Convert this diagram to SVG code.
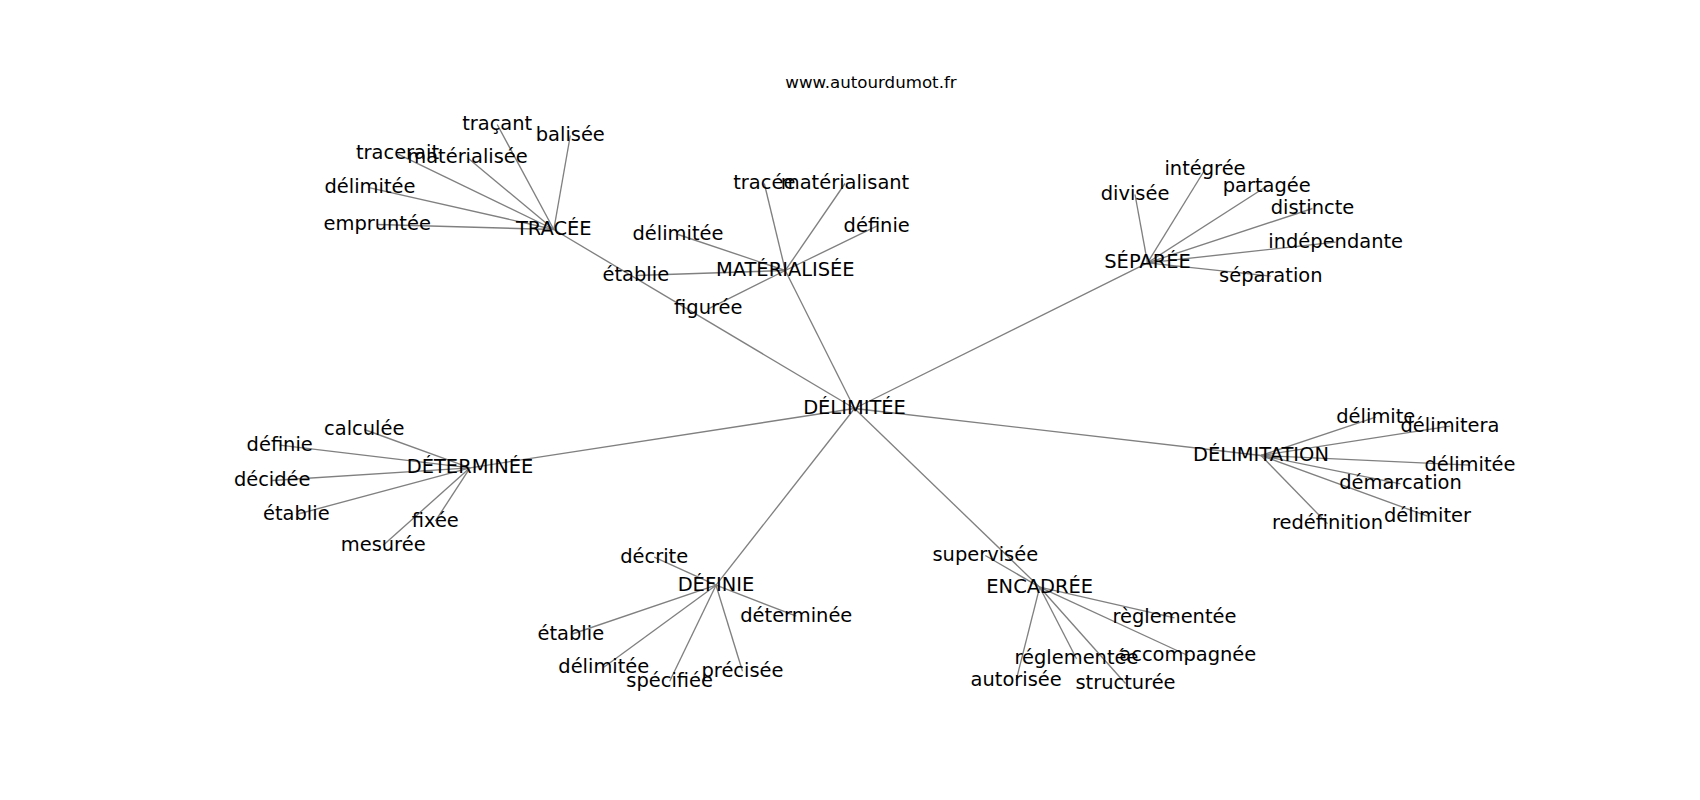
<svg xmlns="http://www.w3.org/2000/svg" width="1700" height="800" viewBox="0 0 1700 800">
<style>
.bg{fill:#ffffff}
.e line{stroke:#808080;stroke-width:1.35;fill:none}
text{font-family:"DejaVu Sans","Liberation Sans",sans-serif;fill:#000000;text-anchor:middle}
.lb{font-size:19.44px}
.tt{font-size:16.67px}
</style>
<rect class="bg" x="0" y="0" width="1700" height="800"/>
<text id="title" class="tt" x="871" y="88">www.autourdumot.fr</text>
<g id="edges" class="e">
<line x1="854.5" y1="408.5" x2="553.8" y2="229.5"/>
<line x1="854.5" y1="408.5" x2="785.3" y2="270.5"/>
<line x1="854.5" y1="408.5" x2="1147.5" y2="262.8"/>
<line x1="854.5" y1="408.5" x2="1261" y2="455.5"/>
<line x1="854.5" y1="408.5" x2="470" y2="467.8"/>
<line x1="854.5" y1="408.5" x2="716" y2="585.2"/>
<line x1="854.5" y1="408.5" x2="1039.7" y2="587.2"/>
<line x1="553.8" y1="229.5" x2="497.2" y2="124.5"/>
<line x1="553.8" y1="229.5" x2="570.3" y2="135.5"/>
<line x1="553.8" y1="229.5" x2="397.5" y2="153.8"/>
<line x1="553.8" y1="229.5" x2="467.5" y2="157.8"/>
<line x1="553.8" y1="229.5" x2="370" y2="187.8"/>
<line x1="553.8" y1="229.5" x2="377.2" y2="224.5"/>
<line x1="785.3" y1="270.5" x2="764.3" y2="183.5"/>
<line x1="785.3" y1="270.5" x2="845" y2="183.5"/>
<line x1="785.3" y1="270.5" x2="678" y2="234.5"/>
<line x1="785.3" y1="270.5" x2="876.7" y2="226.2"/>
<line x1="785.3" y1="270.5" x2="635.8" y2="275.5"/>
<line x1="785.3" y1="270.5" x2="708.3" y2="308.8"/>
<line x1="1147.5" y1="262.8" x2="1205" y2="169.5"/>
<line x1="1147.5" y1="262.8" x2="1135" y2="194.5"/>
<line x1="1147.5" y1="262.8" x2="1266.7" y2="186.2"/>
<line x1="1147.5" y1="262.8" x2="1312.5" y2="208.5"/>
<line x1="1147.5" y1="262.8" x2="1335.7" y2="242.2"/>
<line x1="1147.5" y1="262.8" x2="1270.8" y2="276.2"/>
<line x1="1261" y1="455.5" x2="1375.8" y2="417.2"/>
<line x1="1261" y1="455.5" x2="1450" y2="426.2"/>
<line x1="1261" y1="455.5" x2="1470" y2="465.2"/>
<line x1="1261" y1="455.5" x2="1400.5" y2="483.8"/>
<line x1="1261" y1="455.5" x2="1427.5" y2="516.2"/>
<line x1="1261" y1="455.5" x2="1327.5" y2="523.8"/>
<line x1="470" y1="467.8" x2="364.2" y2="429.5"/>
<line x1="470" y1="467.8" x2="279.7" y2="445.2"/>
<line x1="470" y1="467.8" x2="272.2" y2="480.5"/>
<line x1="470" y1="467.8" x2="296.3" y2="514.5"/>
<line x1="470" y1="467.8" x2="435.3" y2="521.2"/>
<line x1="470" y1="467.8" x2="383.2" y2="545.2"/>
<line x1="716" y1="585.2" x2="654.2" y2="557.2"/>
<line x1="716" y1="585.2" x2="796.3" y2="616.2"/>
<line x1="716" y1="585.2" x2="570.8" y2="634.5"/>
<line x1="716" y1="585.2" x2="603.8" y2="667.2"/>
<line x1="716" y1="585.2" x2="669.7" y2="681.2"/>
<line x1="716" y1="585.2" x2="742.5" y2="671.2"/>
<line x1="1039.7" y1="587.2" x2="985.3" y2="555.5"/>
<line x1="1039.7" y1="587.2" x2="1174.5" y2="617.8"/>
<line x1="1039.7" y1="587.2" x2="1076.5" y2="658.8"/>
<line x1="1039.7" y1="587.2" x2="1187.8" y2="655.5"/>
<line x1="1039.7" y1="587.2" x2="1016.2" y2="680.2"/>
<line x1="1039.7" y1="587.2" x2="1125.5" y2="683.5"/>
</g>
<g id="n-delimitee-center"><text class="lb" x="854.5" y="414">DÉLIMITÉE</text></g>
<g id="n-tracee"><text class="lb" x="553.8" y="235">TRACÉE</text></g>
<g id="n-tracant"><text class="lb" x="497.2" y="130">traçant</text></g>
<g id="n-balisee"><text class="lb" x="570.3" y="141">balisée</text></g>
<g id="n-tracerait"><text class="lb" x="397.5" y="159.3">tracerait</text></g>
<g id="n-materialisee-l"><text class="lb" x="467.5" y="163.3">matérialisée</text></g>
<g id="n-delimitee-t"><text class="lb" x="370" y="193.3">délimitée</text></g>
<g id="n-empruntee"><text class="lb" x="377.2" y="230">empruntée</text></g>
<g id="n-materialisee"><text class="lb" x="785.3" y="276">MATÉRIALISÉE</text></g>
<g id="n-tracee-l"><text class="lb" x="764.3" y="189">tracée</text></g>
<g id="n-materialisant"><text class="lb" x="845" y="189">matérialisant</text></g>
<g id="n-delimitee-m"><text class="lb" x="678" y="240">délimitée</text></g>
<g id="n-definie-m"><text class="lb" x="876.7" y="231.7">définie</text></g>
<g id="n-etablie-m"><text class="lb" x="635.8" y="281">établie</text></g>
<g id="n-figuree"><text class="lb" x="708.3" y="314.3">figurée</text></g>
<g id="n-separee"><text class="lb" x="1147.5" y="268.3">SÉPARÉE</text></g>
<g id="n-integree"><text class="lb" x="1205" y="175">intégrée</text></g>
<g id="n-divisee"><text class="lb" x="1135" y="200">divisée</text></g>
<g id="n-partagee"><text class="lb" x="1266.7" y="191.7">partagée</text></g>
<g id="n-distincte"><text class="lb" x="1312.5" y="214">distincte</text></g>
<g id="n-independante"><text class="lb" x="1335.7" y="247.7">indépendante</text></g>
<g id="n-separation"><text class="lb" x="1270.8" y="281.7">séparation</text></g>
<g id="n-delimitation"><text class="lb" x="1261" y="461">DÉLIMITATION</text></g>
<g id="n-delimite"><text class="lb" x="1375.8" y="422.7">délimite</text></g>
<g id="n-delimitera"><text class="lb" x="1450" y="431.7">délimitera</text></g>
<g id="n-delimitee-d"><text class="lb" x="1470" y="470.7">délimitée</text></g>
<g id="n-demarcation"><text class="lb" x="1400.5" y="489.3">démarcation</text></g>
<g id="n-delimiter"><text class="lb" x="1427.5" y="521.7">délimiter</text></g>
<g id="n-redefinition"><text class="lb" x="1327.5" y="529.3">redéfinition</text></g>
<g id="n-determinee"><text class="lb" x="470" y="473.3">DÉTERMINÉE</text></g>
<g id="n-calculee"><text class="lb" x="364.2" y="435">calculée</text></g>
<g id="n-definie-d"><text class="lb" x="279.7" y="450.7">définie</text></g>
<g id="n-decidee"><text class="lb" x="272.2" y="486">décidée</text></g>
<g id="n-etablie-d"><text class="lb" x="296.3" y="520">établie</text></g>
<g id="n-fixee"><text class="lb" x="435.3" y="526.7">fixée</text></g>
<g id="n-mesuree"><text class="lb" x="383.2" y="550.7">mesurée</text></g>
<g id="n-definie"><text class="lb" x="716" y="590.7">DÉFINIE</text></g>
<g id="n-decrite"><text class="lb" x="654.2" y="562.7">décrite</text></g>
<g id="n-determinee-l"><text class="lb" x="796.3" y="621.7">déterminée</text></g>
<g id="n-etablie-f"><text class="lb" x="570.8" y="640">établie</text></g>
<g id="n-delimitee-f"><text class="lb" x="603.8" y="672.7">délimitée</text></g>
<g id="n-specifiee"><text class="lb" x="669.7" y="686.7">spécifiée</text></g>
<g id="n-precisee"><text class="lb" x="742.5" y="676.7">précisée</text></g>
<g id="n-encadree"><text class="lb" x="1039.7" y="592.7">ENCADRÉE</text></g>
<g id="n-supervisee"><text class="lb" x="985.3" y="561">supervisée</text></g>
<g id="n-reglementee-grave"><text class="lb" x="1174.5" y="623.3">règlementée</text></g>
<g id="n-reglementee"><text class="lb" x="1076.5" y="664.3">réglementée</text></g>
<g id="n-accompagnee"><text class="lb" x="1187.8" y="661">accompagnée</text></g>
<g id="n-autorisee"><text class="lb" x="1016.2" y="685.7">autorisée</text></g>
<g id="n-structuree"><text class="lb" x="1125.5" y="689">structurée</text></g>
</svg>
